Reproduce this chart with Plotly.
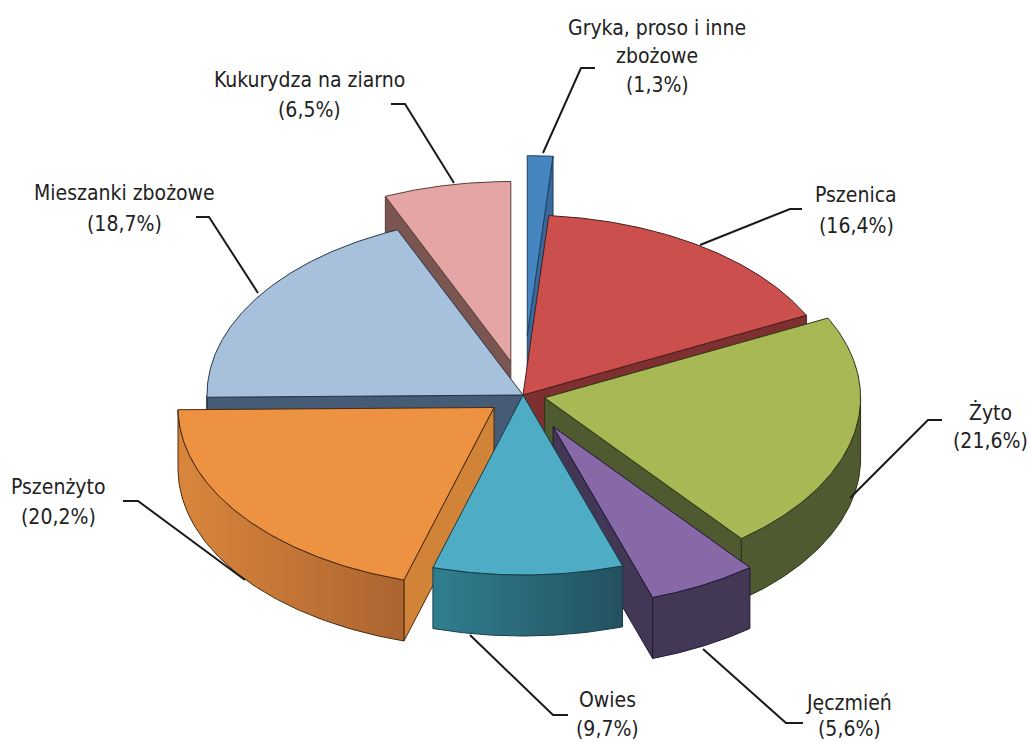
import numpy as np
import plotly.graph_objects as go

# --- data (clockwise from the top of the pie) ---
names = ["Gryka, proso i inne zbożowe", "Pszenica", "Żyto", "Jęczmień", "Owies",
         "Pszenżyto", "Mieszanki zbożowe", "Kukurydza na ziarno"]
values = [1.3, 16.4, 21.6, 5.6, 9.7, 20.2, 18.7, 6.5]
explode = [0.33, 0.0, 0.07, 0.2, 0.0, 0.115, 0.0, 0.19]

top_colors = ["#4585c0", "#cb4f4c", "#a8b855", "#8769a8", "#4eacc5", "#ec9240", "#a7c0dc", "#e5a5a4"]
face_colors = ["#39699a", "#7e2f30", "#4f5a30", "#423755", "#2f7f90", "#d18338", "#465b75", "#7b5550"]
rim_left = ["#39699a", "#7e2f30", "#4f5a30", "#423755", "#2f7f90", "#d9863c", "#465b75", "#7b5550"]
rim_right = ["#39699a", "#7e2f30", "#4f5a30", "#423755", "#24505f", "#ac6430", "#465b75", "#7b5550"]
edge_colors = ["#1f3f60", "#4a1c1c", "#2c3418", "#1f1833", "#163c48", "#4a2a10", "#26364a", "#55403e"]
paint_order = [0, 7, 1, 6, 2, 5, 3, 4]

label_lines = [
    (["Gryka, proso i inne", "zbożowe"], 657, [28, 56], 85),
    (["Pszenica"], 856, [195], 226),
    (["Żyto"], 990, [412], 441),
    (["Jęczmień"], 849, [703], 729),
    (["Owies"], 607, [700], 729),
    (["Pszenżyto"], 58, [487], 517),
    (["Mieszanki zbożowe"], 124, [193], 224),
    (["Kukurydza na ziarno"], 309, [80], 110),
]
leaders = [
    ([595, 581, 543], [68, 68, 153]),
    ([802, 790, 700], [209, 209, 245]),
    ([942, 928, 850], [420, 420, 498]),
    ([803, 786, 703], [723, 723, 649]),
    ([568, 553, 470], [715, 715, 635]),
    ([123, 138, 245], [501, 501, 580]),
    ([196, 209, 258], [217, 217, 293]),
    ([391, 405, 454], [104, 104, 183]),
]

# --- projection of the tilted pie ---
CX, CY, RX, RY, DEPTH = 523, 395, 316, 180, 61
fmt = lambda v: f"({v:.1f}%)".replace(".", ",")

fig = go.Figure()


def poly(x, y, fill, edge, gradient=None):
    kw = dict(fillgradient=gradient) if gradient else dict(fillcolor=fill)
    fig.add_trace(go.Scatter(x=np.r_[x, x[0]], y=np.r_[y, y[0]], mode="lines", fill="toself",
                             line=dict(color=edge, width=1), hoverinfo="skip", showlegend=False, **kw))


edges = np.radians(np.r_[0, np.cumsum(values)] * 3.6)

for i in paint_order:
    a, b = edges[i], edges[i + 1]
    mid = (a + b) / 2
    tx = CX + explode[i] * RX * np.sin(mid)
    ty = CY - explode[i] * RY * np.cos(mid)
    pt = lambda t: (tx + RX * np.sin(t), ty - RY * np.cos(t))

    # radial faces that look towards the viewer
    for ang, visible in ((a, np.sin(a) < 0), (b, np.sin(b) > 0)):
        if visible:
            px, py = pt(ang)
            poly(np.array([tx, px, px, tx]), np.array([ty, py, py + DEPTH, ty + DEPTH]),
                 face_colors[i], edge_colors[i])

    # outer rim
    lo, hi = max(a, np.pi / 2), min(b, 3 * np.pi / 2)
    if hi > lo:
        t = np.linspace(lo, hi, 80)
        rx, ry = pt(t)
        grad = dict(type="horizontal", colorscale=[[0, rim_left[i]], [1, rim_right[i]]])
        poly(np.r_[rx, rx[::-1]], np.r_[ry, ry[::-1] + DEPTH], face_colors[i], edge_colors[i], grad)

    # top of the slice
    t = np.linspace(a, b, 120)
    sx, sy = pt(t)
    poly(np.r_[tx, sx], np.r_[ty, sy], top_colors[i], edge_colors[i])

for lx, ly in leaders:
    fig.add_trace(go.Scatter(x=lx, y=ly, mode="lines", line=dict(color="#1a1a1a", width=2),
                             hoverinfo="skip", showlegend=False))

annotations = []
for val, (lines, xc, ys, yv) in zip(values, label_lines):
    for text, y in list(zip(lines, ys)) + [(fmt(val), yv)]:
        annotations.append(dict(x=xc, y=y, text=text, showarrow=False, xanchor="center", yanchor="middle",
                                font=dict(family="'DejaVu Sans Condensed', 'Liberation Sans'", size=21, color="#222222")))

fig.update_layout(
    width=1029, height=742, margin=dict(l=0, r=0, t=0, b=0),
    paper_bgcolor="white", plot_bgcolor="white", showlegend=False, annotations=annotations,
    xaxis=dict(range=[0, 1029], visible=False, fixedrange=True),
    yaxis=dict(range=[742, 0], visible=False, fixedrange=True),
)
fig.write_html("out.html", post_script="document.body.style.margin='0';", config=dict(displayModeBar=False))
